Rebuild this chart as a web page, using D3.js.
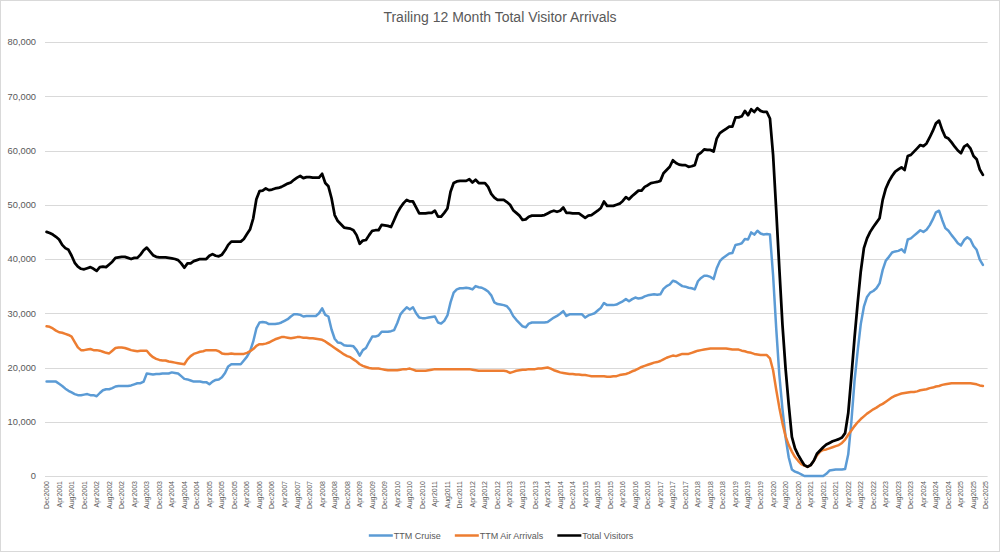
<!DOCTYPE html>
<html lang="en">
<head>
  <meta charset="UTF-8" />
  <title>Trailing 12 Month Total Visitor Arrivals</title>
  <script src="https://d3js.org/d3.v7.min.js"></script>
  <style>
    body {
      margin: 0;
      background: #fff;
    }
    svg {
      display: block;
      font-family: "Liberation Sans", Arial, sans-serif;
    }
    .label {
      fill: #595959;
    }
  </style>
</head>
<body>
  <svg id="chart" width="1000" height="552"></svg>

  <script>
    // monthly categories Dec2000 .. Dec2025, every 4th one is labelled
    const firstMonth = new Date(2000, 11, 1);
    const lastMonth = new Date(2025, 11, 1);
    const months = d3.timeMonth.range(firstMonth, d3.timeMonth.offset(lastMonth, 1));
    const monthLabels = months.map(d3.timeFormat("%b%Y"));
    const yTicks = [0, 10000, 20000, 30000, 40000, 50000, 60000, 70000, 80000];

    // values in thousands of visitors, one per month from Dec2000 (ends Nov2025)
    const cruise = [
      17.4,17.4,17.4,17.4,17.0,16.6,16.1,15.7,15.4,15.1,14.9,14.9,
      15.0,15.1,14.9,14.9,14.7,15.3,15.8,16.0,16.0,16.2,16.5,16.6,
      16.6,16.6,16.6,16.7,16.9,17.1,17.1,17.4,18.9,18.8,18.7,18.8,
      18.8,18.9,18.9,18.9,19.1,19.0,18.9,18.4,17.9,17.8,17.6,17.4,
      17.4,17.4,17.3,17.3,16.9,17.4,17.7,17.8,18.2,19.0,20.2,20.6,
      20.6,20.6,20.6,21.3,22.0,23.0,24.8,27.2,28.3,28.4,28.3,28.0,
      28.0,28.0,28.1,28.3,28.6,28.9,29.4,29.8,29.8,29.7,29.4,29.5,
      29.5,29.5,29.5,30.0,30.9,29.7,29.4,27.0,25.3,24.6,24.5,24.1,
      24.0,24.0,23.9,23.2,22.2,23.2,23.6,24.7,25.7,25.7,25.9,26.6,
      26.6,26.6,26.7,26.9,28.2,29.8,30.5,31.1,30.7,31.1,30.0,29.2,
      29.1,29.1,29.2,29.3,29.4,28.3,28.1,28.6,29.6,32.0,33.8,34.4,
      34.6,34.6,34.7,34.6,34.4,35.0,34.8,34.7,34.4,34.0,33.3,32.0,
      31.7,31.6,31.5,31.3,30.6,29.5,28.8,28.2,27.6,27.4,28.1,28.3,
      28.3,28.3,28.3,28.3,28.4,28.8,29.2,29.5,29.9,30.4,29.5,29.8,
      29.8,29.8,29.8,29.8,29.2,29.6,29.8,30.0,30.5,31.0,31.9,31.5,
      31.5,31.5,31.6,31.9,32.2,32.6,32.2,32.6,32.9,32.7,32.8,33.1,
      33.3,33.4,33.5,33.4,33.5,34.5,35.0,35.3,36.0,35.8,35.4,35.0,
      34.9,34.7,34.6,34.4,35.9,36.5,36.9,36.9,36.7,36.3,38.3,39.6,
      40.2,40.6,41.0,41.1,42.6,42.7,42.9,43.7,43.6,44.9,44.5,45.2,
      44.7,44.5,44.6,44.5,37.0,27.2,18.6,12.3,7.1,3.4,1.2,0.8,
      0.6,0.3,0,0,0,0,0,0,0,0.4,1.0,1.1,
      1.2,1.2,1.2,1.3,4.0,10.0,17.5,23.0,28.0,31.2,33.0,33.8,
      34.1,34.6,35.5,38.0,39.7,40.4,41.2,41.4,41.5,41.8,41.2,43.6,
      43.8,44.3,44.8,45.3,45.0,45.4,46.2,47.3,48.6,48.9,47.2,45.7,
      45.2,44.4,43.7,42.9,42.5,43.5,44.0,43.6,42.4,41.7,39.9,38.9
    ];

    const air = [
      27.6,27.5,27.2,26.8,26.5,26.4,26.2,26.0,25.7,24.7,23.7,23.2,
      23.2,23.3,23.4,23.2,23.2,23.1,22.9,22.7,22.6,23.1,23.6,23.7,
      23.7,23.6,23.4,23.2,23.1,23.0,23.1,23.1,23.1,22.4,21.9,21.6,
      21.4,21.3,21.3,21.1,21.0,20.9,20.8,20.7,20.6,21.5,22.1,22.5,
      22.7,22.9,23.0,23.2,23.2,23.2,23.2,23.0,22.6,22.5,22.5,22.6,
      22.5,22.5,22.5,22.5,22.7,23.0,23.4,24.0,24.3,24.3,24.4,24.6,
      24.9,25.2,25.4,25.6,25.6,25.5,25.4,25.5,25.6,25.6,25.5,25.5,
      25.4,25.4,25.3,25.2,25.1,24.8,24.4,24.0,23.6,23.2,22.8,22.4,
      22.1,21.9,21.5,21.1,20.6,20.3,20.1,19.9,19.8,19.8,19.8,19.7,
      19.6,19.5,19.5,19.5,19.5,19.6,19.7,19.7,19.8,19.6,19.4,19.4,
      19.4,19.4,19.5,19.6,19.7,19.7,19.7,19.7,19.7,19.7,19.7,19.7,
      19.7,19.7,19.7,19.7,19.6,19.5,19.4,19.4,19.4,19.4,19.4,19.4,
      19.4,19.4,19.4,19.3,19.0,19.2,19.4,19.5,19.6,19.6,19.7,19.7,
      19.7,19.8,19.8,19.9,20.0,19.8,19.5,19.3,19.1,19.0,18.9,18.8,
      18.8,18.7,18.7,18.6,18.6,18.5,18.4,18.4,18.4,18.4,18.4,18.3,
      18.3,18.4,18.4,18.6,18.7,18.8,19.0,19.3,19.5,19.8,20.1,20.3,
      20.5,20.7,20.9,21.0,21.2,21.5,21.8,22.0,22.2,22.1,22.3,22.5,
      22.5,22.5,22.7,22.9,23.1,23.2,23.3,23.4,23.5,23.5,23.5,23.5,
      23.5,23.5,23.4,23.3,23.3,23.3,23.1,23.0,22.8,22.7,22.5,22.4,
      22.3,22.3,22.3,21.7,19.5,15.9,12.6,9.7,7.3,5.7,4.5,3.5,
      2.8,2.2,1.9,1.7,2.0,2.8,3.8,4.5,4.8,4.9,5.1,5.3,
      5.5,5.7,6.1,6.7,7.6,8.4,9.2,9.9,10.5,11.0,11.5,11.9,
      12.3,12.6,13.0,13.3,13.7,14.1,14.5,14.8,15.0,15.2,15.3,15.4,
      15.5,15.5,15.6,15.8,15.9,16.0,16.2,16.3,16.5,16.6,16.8,16.9,
      17.0,17.1,17.1,17.1,17.1,17.1,17.1,17.1,17.0,16.9,16.7,16.6
    ];

    const total = [
      45.0,44.8,44.5,44.1,43.6,42.6,42.0,41.7,40.6,39.3,38.6,38.2,
      38.1,38.3,38.5,38.2,37.8,38.5,38.6,38.5,39.0,39.5,40.2,40.3,
      40.4,40.4,40.2,40.0,40.2,40.2,40.8,41.6,42.1,41.4,40.7,40.4,
      40.3,40.3,40.3,40.2,40.1,40.0,39.8,39.2,38.4,39.2,39.2,39.6,
      39.8,40.0,40.0,40.0,40.6,40.9,40.6,40.5,40.8,41.6,42.6,43.2,
      43.2,43.2,43.2,43.7,44.6,45.5,47.5,51.0,52.5,52.6,53.0,52.7,
      52.8,53.0,53.1,53.3,53.6,53.9,54.1,54.6,55.0,55.3,54.9,55.1,
      55.1,55.0,55.0,55.0,55.7,54.0,53.4,51.2,48.1,47.0,46.4,45.8,
      45.7,45.6,45.3,44.4,42.8,43.4,43.5,44.4,45.2,45.3,45.3,46.3,
      46.2,46.1,45.9,47.2,48.5,49.5,50.3,50.9,50.6,50.6,49.5,48.4,
      48.4,48.4,48.5,48.5,48.9,47.8,47.8,48.5,49.3,52.4,54.0,54.3,
      54.4,54.4,54.4,54.7,54.1,54.6,54.0,54.0,54.0,53.3,52.0,51.3,
      50.9,50.9,50.9,50.5,50.0,49.0,48.5,48.0,47.2,47.3,47.8,48.0,
      48.0,48.0,48.0,48.1,48.4,48.7,48.9,48.7,48.9,49.5,48.5,48.5,
      48.4,48.4,48.4,48.0,47.6,48.0,48.1,48.5,48.9,49.4,50.6,49.8,
      49.8,49.8,50.0,50.2,50.7,51.4,51.0,51.6,52.1,52.6,52.6,53.3,
      53.6,54.0,54.1,54.2,54.4,55.8,56.4,57.0,58.2,57.7,57.4,57.3,
      57.3,57.0,57.1,57.3,59.2,59.6,60.2,60.1,60.1,59.8,62.2,63.2,
      63.6,64.0,64.4,64.4,66.1,66.1,66.3,67.3,66.5,67.6,67.1,67.8,
      67.3,67.1,67.1,65.9,59.2,49.0,38.2,27.8,19.7,13.1,7.2,5.1,
      3.9,2.9,2.0,1.7,2.0,2.8,4.1,4.7,5.3,5.8,6.1,6.4,
      6.6,6.8,7.1,7.9,11.6,18.3,25.4,31.8,37.7,42.0,43.8,45.0,
      45.9,46.7,47.5,50.9,53.0,54.3,55.3,56.1,56.5,56.9,56.4,59.0,
      59.2,59.8,60.4,61.0,60.8,61.3,62.4,63.6,65.0,65.5,63.8,62.5,
      62.2,61.5,60.7,60.0,59.5,60.7,61.1,60.4,59.0,58.4,56.5,55.5
    ];

    const series = [
      { name: "TTM Cruise", values: cruise, color: "#5b9bd5", width: 2.5 },
      { name: "TTM Air Arrivals", values: air, color: "#ed7d31", width: 2.5 },
      { name: "Total Visitors", values: total, color: "#000000", width: 2.75 }
    ];

    const svg = d3.select("#chart");
    const W = 1000, H = 552;
    const plot = { left: 45, right: 987.6, top: 42, bottom: 476 };

    svg.append("rect")
      .attr("x", 0.5).attr("y", 0.5)
      .attr("width", W - 1).attr("height", H - 1)
      .attr("fill", "#fff")
      .attr("stroke", "#d9d9d9");

    const x = d3.scaleBand()
      .domain(monthLabels)
      .range([plot.left, plot.right]);
    const bw = x.bandwidth();

    const y = d3.scaleLinear()
      .domain([0, 80000])
      .range([plot.bottom, plot.top]);

    // gridlines
    svg.append("g")
      .selectAll("line")
      .data(yTicks)
      .join("line")
      .attr("x1", plot.left)
      .attr("x2", plot.right)
      .attr("y1", d => Math.round(y(d)) + 0.5)
      .attr("y2", d => Math.round(y(d)) + 0.5)
      .attr("stroke", "#d9d9d9")
      .attr("stroke-width", 1);

    // y labels
    svg.append("g")
      .selectAll("text")
      .data(yTicks)
      .join("text")
      .attr("class", "label")
      .attr("x", 36)
      .attr("y", d => y(d))
      .attr("dy", "0.35em")
      .attr("text-anchor", "end")
      .style("font-size", "9.3px")
      .text(d3.format(","));

    // x labels (rotated)
    svg.append("g")
      .selectAll("text")
      .data(monthLabels.filter((d, i) => i % 4 === 0))
      .join("text")
      .attr("class", "label")
      .attr("transform", d => `translate(${x(d) + bw / 2}, 481) rotate(-90)`)
      .attr("dy", "0.35em")
      .attr("text-anchor", "end")
      .style("font-size", "7px")
      .text(d => d);

    const line = d3.line()
      .x((v, i) => x(monthLabels[i]) + bw / 2)
      .y(v => y(v * 1000));

    svg.append("g")
      .selectAll("path")
      .data(series)
      .join("path")
      .attr("fill", "none")
      .attr("stroke", d => d.color)
      .attr("stroke-width", d => d.width)
      .attr("stroke-linejoin", "round")
      .attr("stroke-linecap", "round")
      .attr("d", d => line(d.values));

    // title
    svg.append("text")
      .attr("class", "label")
      .attr("x", W / 2)
      .attr("y", 22)
      .attr("text-anchor", "middle")
      .style("font-size", "14px")
      .text("Trailing 12 Month Total Visitor Arrivals");

    // legend, centred under the plot
    const legend = svg.append("g");
    const items = legend.selectAll("g")
      .data(series)
      .join("g");
    items.append("line")
      .attr("x1", 0).attr("x2", 24)
      .attr("y1", 0).attr("y2", 0)
      .attr("stroke", d => d.color)
      .attr("stroke-width", 2.5);
    items.append("text")
      .attr("class", "label")
      .attr("x", 25)
      .attr("dy", "0.35em")
      .style("font-size", "9px")
      .text(d => d.name);

    let offset = 0;
    items.each(function () {
      const g = d3.select(this);
      g.attr("transform", `translate(${offset}, 0)`);
      offset += 25 + g.select("text").node().getComputedTextLength() + 14;
    });
    const legendWidth = offset - 14;
    legend.attr("transform", `translate(${(W - legendWidth) / 2 + 1}, 535.5)`);
  </script>
</body>
</html>
